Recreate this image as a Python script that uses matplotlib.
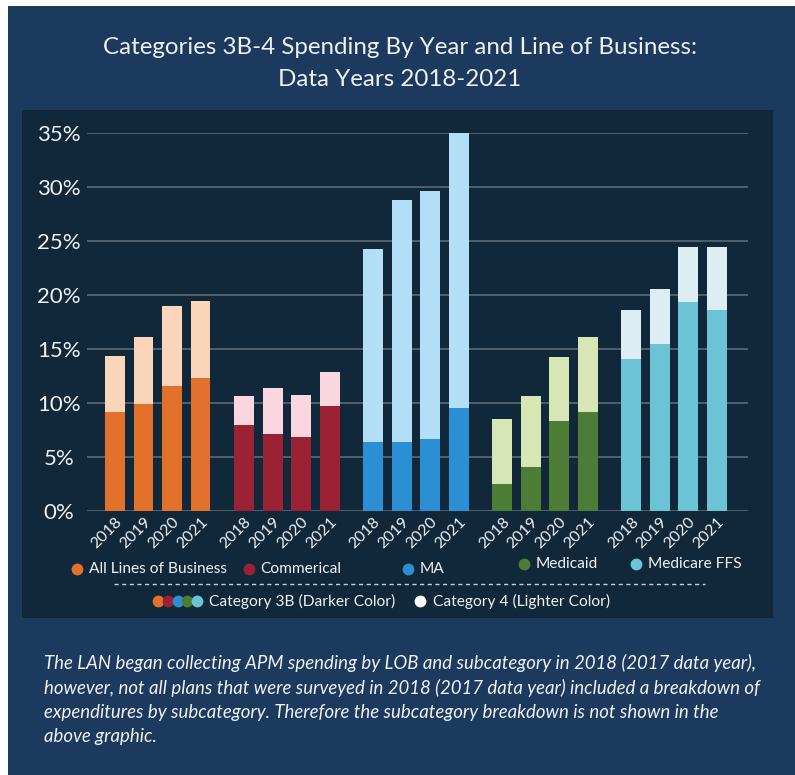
import matplotlib
matplotlib.use("Agg")
import matplotlib.pyplot as plt
from matplotlib.patches import Rectangle

plt.rcParams['font.family'] = ['Lato', 'DejaVu Sans']

# Share of spending (%) by line of business, data years 2018-2021
years = ['2018', '2019', '2020', '2021']
lines_of_business = ['All Lines of Business', 'Commerical', 'MA', 'Medicaid', 'Medicare FFS']

cat3b_all = [9.1, 9.9, 11.55, 12.3]
cat4_all = [5.25, 6.15, 7.45, 7.15]

cat3b_commercial = [7.9, 7.1, 6.85, 9.7]
cat4_commercial = [2.7, 4.3, 3.85, 3.1]

cat3b_ma = [6.35, 6.35, 6.65, 9.5]
cat4_ma = [17.85, 22.45, 22.95, 25.5]

cat3b_medicaid = [2.5, 4.05, 8.35, 9.1]
cat4_medicaid = [6.0, 6.6, 5.85, 6.95]

cat3b_ffs = [14.05, 15.4, 19.3, 18.6]
cat4_ffs = [4.55, 5.1, 5.1, 5.8]

cat3b = [cat3b_all, cat3b_commercial, cat3b_ma, cat3b_medicaid, cat3b_ffs]
cat4 = [cat4_all, cat4_commercial, cat4_ma, cat4_medicaid, cat4_ffs]

dark_colors = ['#e2712c', '#9a2234', '#2b90d3', '#4d7c37', '#6cc3d5']
light_colors = ['#fbd5b9', '#fad6de', '#b2def6', '#d6e6b4', '#dcedf4']

BG_OUTER = '#1b3a5e'
BG_INNER = '#11283a'
TEXT = '#eef2f5'
GRID = '#5b6a76'

W, H = 795, 775
fig = plt.figure(figsize=(W / 100, H / 100), dpi=100, facecolor='white')

# background layer in pixel coordinates (y grows downward)
bg = fig.add_axes([0, 0, 1, 1], zorder=0)
bg.set_xlim(0, W)
bg.set_ylim(H, 0)
bg.axis('off')
bg.add_patch(Rectangle((8, 6), W - 8, H - 6, color=BG_OUTER, lw=0))
bg.add_patch(Rectangle((22, 110), 751, 508, color=BG_INNER, lw=0))

bg.text(400, 47, 'Categories 3B-4 Spending By Year and Line of Business:',
        ha='center', va='center', color=TEXT, fontsize=17.4)
bg.text(400, 80, 'Data Years 2018-2021', ha='center', va='center',
        color=TEXT, fontsize=17.4)

# chart
ax = fig.add_axes([86.7 / W, 1 - 510.7 / H, 661 / W, 378 / H], zorder=1)
ax.patch.set_alpha(0)
GROUP_STEP = 4.53
width = 0.7
tick_pos = []
tick_lab = []
for g in range(len(lines_of_business)):
    xs = [g * GROUP_STEP + i for i in range(len(years))]
    ax.bar(xs, cat3b[g], width=width, color=dark_colors[g], zorder=3)
    ax.bar(xs, cat4[g], width=width, bottom=cat3b[g], color=light_colors[g], zorder=3)
    tick_pos += xs
    tick_lab += years

ax.set_ylim(0, 35)
ax.set_xlim(-0.993, 22.2)
ax.set_yticks(range(0, 36, 5))
ax.set_yticklabels([f'{v}%' for v in range(0, 36, 5)])
for v in range(0, 36, 5):
    ax.axhline(v, color=GRID, lw=1.2, zorder=1)
for s in ax.spines.values():
    s.set_visible(False)
ax.tick_params(axis='y', length=0, pad=0, labelsize=16, labelcolor=TEXT)
# center the percentage labels in the margin
for lab in ax.get_yticklabels():
    lab.set_horizontalalignment('center')
    lab.set_x(-(86.7 - 59) / 661)
ax.set_xticks(tick_pos)
ax.set_xticklabels(tick_lab, rotation=45, ha='right', va='top',
                   rotation_mode='anchor', fontsize=11.5, color=TEXT)
ax.tick_params(axis='x', length=0, pad=3)

# legend, first row
row1 = [(77, 569, 89), (249, 569, 260), (408, 569, 420), (524, 564, 536), (636, 564, 648)]
for (cx, cy, tx), name, col in zip(row1, lines_of_business, dark_colors):
    bg.plot(cx, cy, 'o', ms=8.5, color=col, mec='none')
    bg.text(tx, cy, name, ha='left', va='center', color=TEXT, fontsize=11.2)

bg.plot([114, 705], [584, 584], color='#c8d0d6', lw=1, ls=(0, (3, 2.5)))

# legend, second row
for k, col in enumerate(dark_colors):
    bg.plot(158 + k * 9.8, 601, 'o', ms=8.5, color=col, mec='none')
bg.text(209, 601, 'Category 3B (Darker Color)', ha='left', va='center',
        color=TEXT, fontsize=11.2)
bg.plot(420, 601, 'o', ms=8.5, color='white', mec='none')
bg.text(433, 601, 'Category 4 (Lighter Color)', ha='left', va='center',
        color=TEXT, fontsize=11.2)

note = ('The LAN began collecting APM spending by LOB and subcategory in 2018 (2017 data year),\n'
        'however, not all plans that were surveyed in 2018 (2017 data year) included a breakdown of\n'
        'expenditures by subcategory. Therefore the subcategory breakdown is not shown in the\n'
        'above graphic.')
bg.text(44, 654, note, ha='left', va='top', color=TEXT, fontsize=13.4,
        style='italic', linespacing=1.48)

fig.savefig('out.png', dpi=100, facecolor=fig.get_facecolor())
